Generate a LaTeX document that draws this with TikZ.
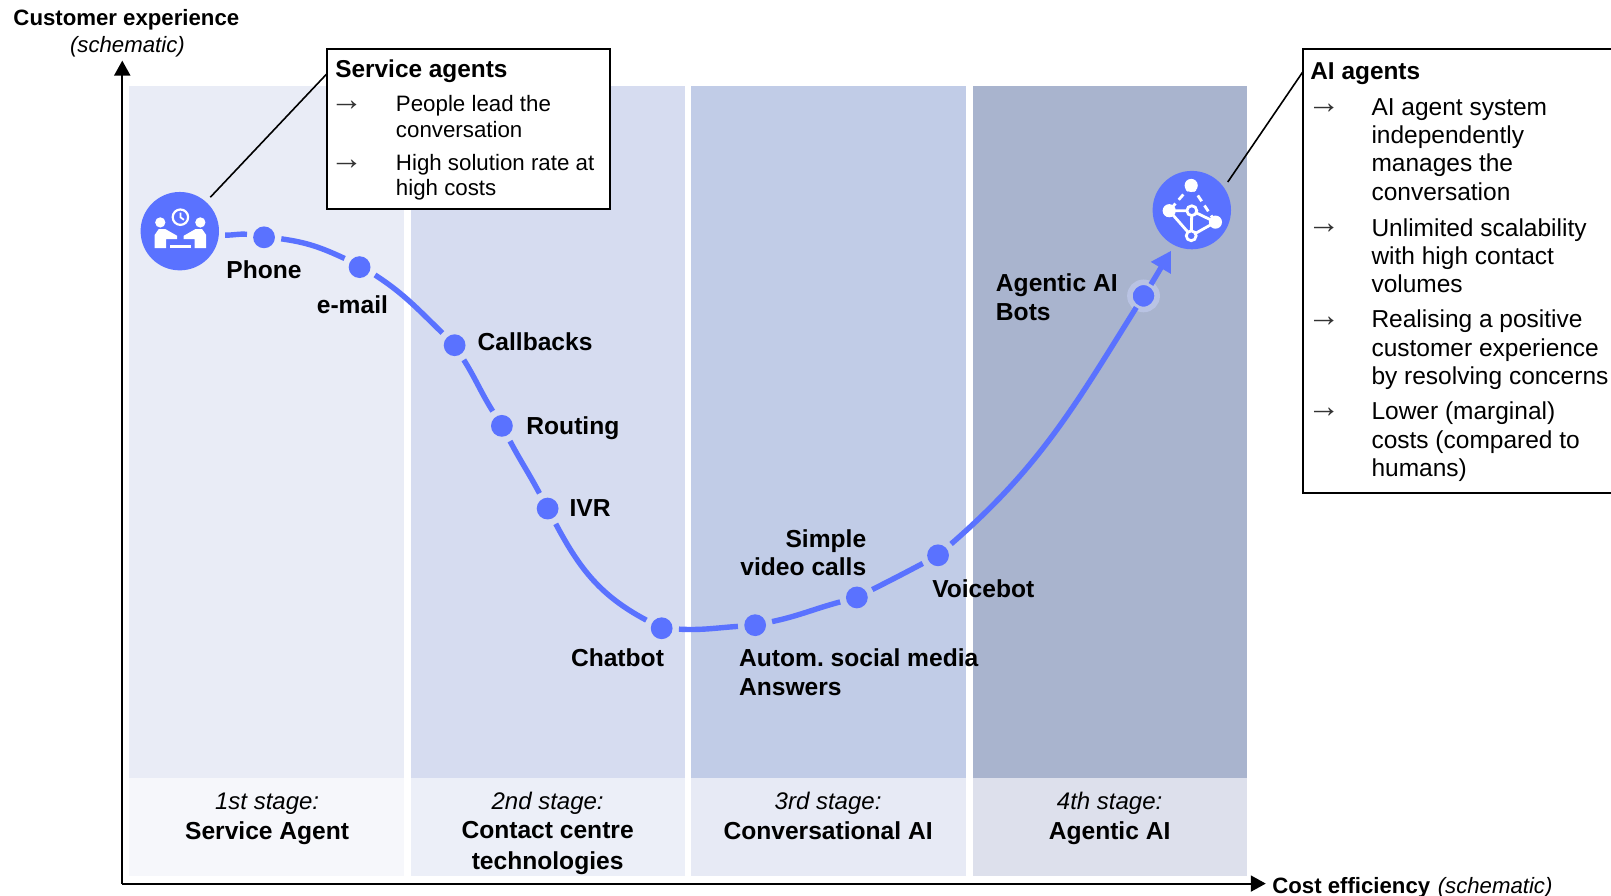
\documentclass[tikz,border=0pt]{standalone}
\usepackage{fontspec}
\setmainfont{Liberation Sans}
\usetikzlibrary{arrows.meta}
\definecolor{bandA}{HTML}{E9ECF6}
\definecolor{bandB}{HTML}{D6DCF0}
\definecolor{bandC}{HTML}{C1CCE7}
\definecolor{bandD}{HTML}{A9B4CE}
\definecolor{footA}{HTML}{F6F7FB}
\definecolor{footB}{HTML}{ECEFF8}
\definecolor{footC}{HTML}{E7EAF5}
\definecolor{footD}{HTML}{DDE0EC}
\definecolor{blueC}{HTML}{5A72FF}
\definecolor{ringC}{HTML}{B9C3E3}
\definecolor{arrC}{HTML}{333333}
\tikzset{
  x=0.5137pt,y=-0.5137pt,
  dot/.style={circle,fill=blueC,inner sep=0,minimum size=10.9pt,outer sep=3.2pt},
  ringdot/.style={circle,fill=blueC,draw=ringC,line width=2.8pt,inner sep=0,minimum size=13.6pt,outer sep=0pt},
  bigc/.style={circle,fill=blueC,inner sep=0,minimum size=39.2pt,outer sep=3.2pt},
  curve/.style={draw=blueC,line width=2.7pt},
  lab/.style={font=\fontsize{12.3}{14.4}\selectfont\bfseries,inner sep=0,align=left},
  stagei/.style={font=\fontsize{12}{14.7}\selectfont\itshape,inner sep=0,anchor=center},
  stageb/.style={font=\fontsize{12.3}{15.1}\selectfont\bfseries,inner sep=0,align=center,anchor=north},
  svc/.style={font=\fontsize{11.15}{12.85}\selectfont,inner sep=0,align=left,anchor=west},
  aitx/.style={font=\fontsize{12.25}{14.1}\selectfont,inner sep=0,align=left,anchor=west},
  arrtx/.style={font=\fontsize{16.5}{17}\selectfont,inner sep=0,anchor=west,text=arrC},
  head/.style={font=\fontsize{12.2}{14}\selectfont\bfseries,inner sep=0,anchor=west},
  axlab/.style={font=\fontsize{11.1}{14}\selectfont\bfseries,inner sep=0},
  axit/.style={font=\fontsize{11.1}{14}\selectfont\itshape,inner sep=0},
}
\begin{document}
\begin{tikzpicture}
\frenchspacing
\useasboundingbox (0,0) rectangle (1568,872);
\fill[white] (0,0) rectangle (1568,872);
% bands
\fill[bandA] (126,84) rectangle (393.5,757);
\fill[bandB] (400,84) rectangle (666.5,757);
\fill[bandC] (673,84) rectangle (940,757);
\fill[bandD] (947,84) rectangle (1213.5,757);
\fill[footA] (126,757) rectangle (393.5,853);
\fill[footB] (400,757) rectangle (666.5,853);
\fill[footC] (673,757) rectangle (940,853);
\fill[footD] (947,757) rectangle (1213.5,853);
% axes
\coordinate (org) at (119,860);
\coordinate (ytip) at (119,59);
\coordinate (xtip) at (1232,860);
\draw[line width=1pt,-{Triangle[length=7.5pt,width=8pt]}] (org) -- (ytip);
\draw[line width=1pt,-{Triangle[length=7.5pt,width=8pt]}] (org) -- (xtip);
\node[axlab,anchor=center] (ya) at (123,19) {Customer experience};
\node[axit,anchor=center] (yb) at (124,46) {(schematic)};
\node[axlab,anchor=west] (xa) at (1238,864) {Cost efficiency};
\node[axit,anchor=west] (xb) at (1399,864) {(schematic)};
% big circles
\node[bigc] (human) at (175,225) {};
\node[bigc] (net) at (1160,204.5) {};
% human icon
\begin{scope}[shift={(human.center)}]
\draw[white,line width=1.1pt] (0.6,-13.6) circle (7.5);
\draw[white,line width=0.9pt] (0.6,-18) -- (0.6,-13.6) -- (4,-11);
\fill[white] (-19,-8.5) circle (5);
\fill[white] (20,-8.5) circle (5);
\fill[white] (-24.4,16.6) -- (-24.4,3.6) -- (-20.5,-2) -- (-14,-2) -- (-2.6,4.5) -- (-2.6,7.8) -- (-13.3,7.8) -- (-13.3,16.6) -- cycle;
\fill[white] (25.6,16.6) -- (25.6,3.6) -- (21.7,-2) -- (15.2,-2) -- (3.8,4.5) -- (3.8,7.8) -- (14.5,7.8) -- (14.5,16.6) -- cycle;
\fill[white] (-9.7,13.6) rectangle (11,16.2);
\end{scope}
% network icon
\begin{scope}[shift={(net.center)}]
\draw[white,line width=1.4pt] (-22,0.6) -- (0,0.6) -- (-0.6,25) -- cycle;
\draw[white,line width=1.4pt] (0,0.6) -- (23,11.7) -- (-0.6,25);
\draw[white,line width=1.4pt,dash pattern=on 3.5pt off 2.5pt] (-0.6,-24) -- (-22,0.6);
\draw[white,line width=1.4pt,dash pattern=on 3.5pt off 2.5pt] (-0.6,-24) -- (23,11.7);
\fill[white] (-0.6,-24) circle (6.4);
\fill[white] (-22,0.6) circle (6.4);
\fill[white] (23,11.7) circle (6.4);
\draw[white,fill=blueC,line width=1.4pt] (0,0.6) circle (4.8);
\draw[white,fill=blueC,line width=1.4pt] (-0.6,25) circle (4.8);
\end{scope}
% dots
\node[dot] (phone) at (257,231) {};
\node[dot] (email) at (350,260) {};
\node[dot] (callb) at (442.5,336) {};
\node[dot] (rout) at (488.5,414.5) {};
\node[dot] (ivr) at (533,495) {};
\node[dot] (chat) at (644,611.5) {};
\node[dot] (social) at (735,608.5) {};
\node[dot] (video) at (834,581.5) {};
\node[dot] (voice) at (913,540.5) {};
\node[ringdot] (agent) at (1113,288) {};
% curve
\draw[curve] (human.-5) to[out=-1,in=175] (phone.170);
\draw[curve] (phone.-5) to[out=-8,in=155] (email.150);
\draw[curve] (email.-27) to[out=-33,in=136] (callb.135);
\draw[curve] (callb) to[out=-58,in=122] (rout);
\draw[curve] (rout) to[out=-62,in=118] (ivr);
\draw[curve] (ivr) to[out=-62,in=152] (chat);
\draw[curve] (chat) to[out=-3,in=184] (social);
\draw[curve] (social) to[out=12,in=195] (video);
\draw[curve] (video) to[out=27,in=208] (voice);
\draw[curve] (voice) to[out=41,in=238] (agent);
\draw[curve,-{Triangle[length=10pt,width=11pt]}] (agent.57) -- (net.243);
% labels
\node[lab,anchor=center] (lphone) at (257,263) {Phone};
\node[lab,anchor=center] (lemail) at (343,297) {e-mail};
\node[lab,anchor=west] (lcallb) at (464.5,333) {Callbacks};
\node[lab,anchor=west] (lrout) at (512,417) {Routing};
\node[lab,anchor=west] (livr) at (554,494) {IVR};
\node[lab,anchor=center] (lchat) at (601,640.5) {Chatbot};
\node[lab,anchor=east,align=right] (lvideo) at (843.5,538) {Simple\\video calls};
\node[lab,anchor=west] (lvoice) at (907,573) {Voicebot};
\node[lab,anchor=west] (lsocial) at (719,654) {Autom. social media\\Answers};
\node[lab,anchor=west] (lagent) at (969,289.5) {Agentic AI\\Bots};
% stage footers
\node[stagei] (s1a) at (260,782) {1st stage:};
\node[stageb] (s1b) at (260,799.5) {Service Agent};
\node[stagei] (s2a) at (533,782) {2nd stage:};
\node[stageb] (s2b) at (533,799.5) {Contact centre\\technologies};
\node[stagei] (s3a) at (806,782) {3rd stage:};
\node[stageb] (s3b) at (806,799.5) {Conversational AI};
\node[stagei] (s4a) at (1080,782) {4th stage:};
\node[stageb] (s4b) at (1080,799.5) {Agentic AI};
% callouts
\coordinate (svcA) at (318,72);
\coordinate (aiA) at (1268,70);
\draw[line width=0.8pt] (human.48) -- (svcA);
\draw[line width=0.8pt] (net.38) -- (aiA);
\draw[line width=0.85pt,fill=white] (318,47.5) rectangle (594,203.5);
\draw[line width=0.85pt,fill=white] (1568,47.5) -- (1268,47.5) -- (1268,480) -- (1568,480);
\node[head] (sh) at (326,69) {Service agents};
\node[arrtx] (sa1) at (321,103) {→};
\node[svc] (st1) at (385,113.5) {People lead the\\conversation};
\node[arrtx] (sa2) at (321,160) {→};
\node[svc] (st2) at (385,172.5) {High solution rate at\\high costs};
\node[head] (ah) at (1275,71.5) {AI agents};
\node[arrtx] (aa1) at (1272,106) {→};
\node[aitx] (at1) at (1334.5,145.5) {AI agent system\\independently\\manages the\\conversation};
\node[arrtx] (aa2) at (1272,223) {→};
\node[aitx] (at2) at (1334.5,249) {Unlimited scalability\\with high contact\\volumes};
\node[arrtx] (aa3) at (1272,313) {→};
\node[aitx] (at3) at (1334.5,340.5) {Realising a positive\\customer experience\\by resolving concerns};
\node[arrtx] (aa4) at (1272,402) {→};
\node[aitx] (at4) at (1334.5,430) {Lower (marginal)\\costs (compared to\\humans)};
\end{tikzpicture}
\end{document}
